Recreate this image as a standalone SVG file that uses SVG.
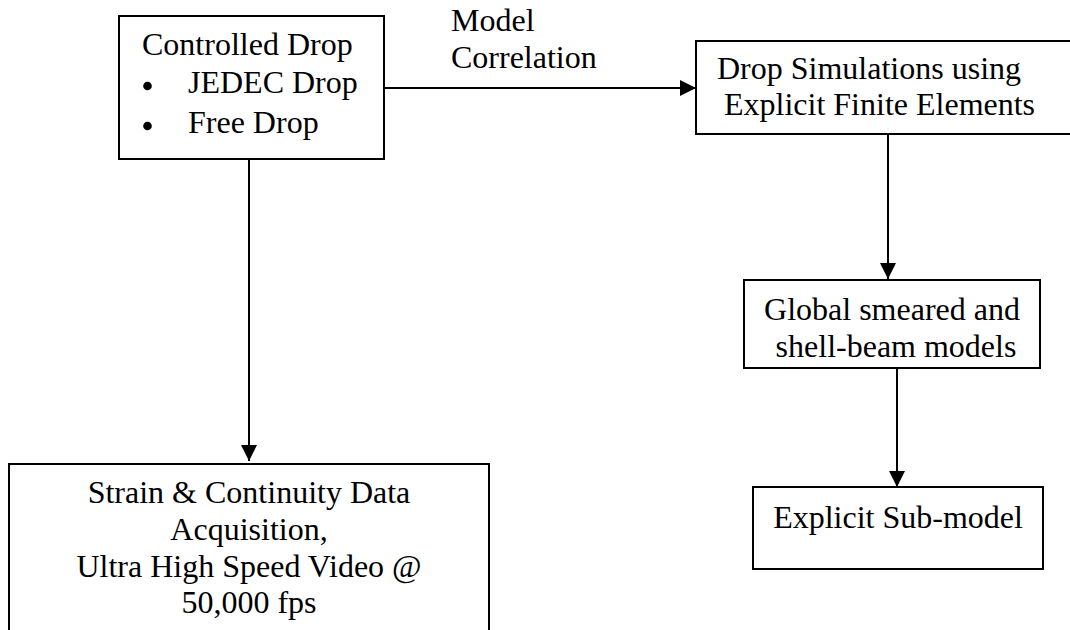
<svg xmlns="http://www.w3.org/2000/svg" width="1070" height="630" viewBox="0 0 1070 630">
  <style>
    .box { fill: #ffffff; stroke: #000000; stroke-width: 2; }
    .lbl { font-family: "Liberation Serif", "Times New Roman", serif; font-size: 32px; fill: #000000; }
    .mid { text-anchor: middle; }
    .edge { fill: none; stroke: #000000; stroke-width: 2; }
    .bullet { fill: #000000; }
  </style>
  <defs>
    <marker id="arrow" viewBox="0 0 16 16" refX="16" refY="8" markerWidth="16" markerHeight="16" markerUnits="userSpaceOnUse" orient="auto">
      <path d="M0,0 L16,8 L0,16 Z" fill="#000000"/>
    </marker>
  </defs>
  <rect width="1070" height="630" fill="#ffffff"/>

  <!-- connectors -->
  <g id="connectors">
    <line class="edge" x1="385" y1="88" x2="696" y2="88" marker-end="url(#arrow)"/>
    <line class="edge" x1="249" y1="160" x2="249" y2="461" marker-end="url(#arrow)"/>
    <line class="edge" x1="888" y1="135" x2="888" y2="279" marker-end="url(#arrow)"/>
    <line class="edge" x1="897" y1="369" x2="897" y2="487" marker-end="url(#arrow)"/>
    <g id="label-model-correlation">
      <text class="lbl" x="451" y="31">Model</text>
      <text class="lbl" x="451" y="68">Correlation</text>
    </g>
  </g>

  <!-- controlled drop -->
  <g id="node-controlled-drop">
    <rect class="box" x="119" y="16" width="265" height="143"/>
    <text class="lbl" x="142" y="55">Controlled Drop</text>
    <circle class="bullet" cx="147.5" cy="86" r="4.3"/>
    <text class="lbl" x="188" y="93">JEDEC Drop</text>
    <circle class="bullet" cx="147.5" cy="126" r="4.3"/>
    <text class="lbl" x="188" y="133">Free Drop</text>
  </g>

  <!-- drop simulations -->
  <g id="node-drop-simulations">
    <rect class="box" x="696" y="41" width="380" height="93"/>
    <text class="lbl" x="717" y="79">Drop Simulations using</text>
    <text class="lbl" x="724" y="115">Explicit Finite Elements</text>
  </g>

  <!-- global models -->
  <g id="node-global-models">
    <rect class="box" x="744" y="280" width="296" height="88"/>
    <text class="lbl mid" x="892" y="320">Global smeared and</text>
    <text class="lbl mid" x="896" y="357">shell-beam models</text>
  </g>

  <!-- explicit sub-model -->
  <g id="node-sub-model">
    <rect class="box" x="753" y="487" width="290" height="82"/>
    <text class="lbl mid" x="898" y="528">Explicit Sub-model</text>
  </g>

  <!-- data acquisition -->
  <g id="node-data-acquisition">
    <rect class="box" x="9" y="464" width="480" height="200"/>
    <text class="lbl mid" x="249" y="503">Strain &amp; Continuity Data</text>
    <text class="lbl mid" x="249" y="540">Acquisition,</text>
    <text class="lbl mid" x="249" y="577">Ultra High Speed Video @</text>
    <text class="lbl mid" x="249" y="613">50,000 fps</text>
  </g>
</svg>
